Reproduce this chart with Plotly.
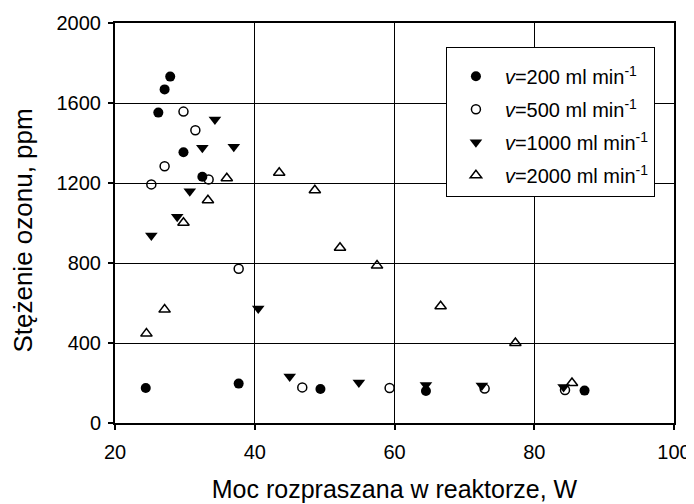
import plotly.graph_objects as go

# Data
x_200 = [27.9, 27.1, 26.2, 29.8, 32.5, 24.4, 37.7, 49.4, 64.5, 87.2]
y_200 = [1732, 1668, 1552, 1354, 1231, 175, 197, 170, 160, 162]

x_500 = [29.8, 31.5, 27.1, 33.4, 25.2, 37.7, 46.8, 59.3, 72.9, 84.4]
y_500 = [1557, 1464, 1284, 1218, 1193, 771, 178, 175, 172, 165]

x_1000 = [34.3, 32.5, 37.0, 30.7, 28.9, 25.2, 40.5, 45.0, 54.9, 64.5, 72.5, 84.2]
y_1000 = [1518, 1376, 1381, 1159, 1031, 937, 572, 232, 203, 190, 188, 180]

x_2000 = [36.0, 33.3, 29.8, 27.1, 24.5, 43.5, 48.6, 52.2, 57.5, 66.6, 77.3, 85.4]
y_2000 = [1224, 1114, 1001, 567, 447, 1251, 1164, 876, 787, 584, 400, 200]

names = ["<i>v</i>=200 ml min<sup>-1</sup>", "<i>v</i>=500 ml min<sup>-1</sup>",
         "<i>v</i>=1000 ml min<sup>-1</sup>", "<i>v</i>=2000 ml min<sup>-1</sup>"]

x_ticks = [20, 40, 60, 80, 100]
y_ticks = [0, 400, 800, 1200, 1600, 2000]

x_title = "Moc rozpraszana w reaktorze, W"
y_title = "Stężenie ozonu, ppm"

FONT = "Liberation Sans, Arial, sans-serif"

fig = go.Figure()
fig.add_trace(go.Scatter(x=x_200, y=y_200, mode="markers", name=names[0], legendgroup="a",
                         marker=dict(symbol="circle", size=10, color="black")))
fig.add_trace(go.Scatter(x=x_500, y=y_500, mode="markers", name=names[1], legendgroup="b",
                         marker=dict(symbol="circle-open", size=9, color="black",
                                     line=dict(width=1.5, color="black"))))
fig.add_trace(go.Scatter(x=x_1000, y=y_1000, mode="markers", name=names[2], legendgroup="c",
                         marker=dict(symbol="triangle-down", size=11, color="black")))
fig.add_trace(go.Scatter(x=x_2000, y=y_2000, mode="markers", name=names[3], legendgroup="d",
                         marker=dict(symbol="triangle-up-open", size=10, color="black",
                                     line=dict(width=1.5, color="black"))))

fig.update_layout(
    width=694, height=504,
    margin=dict(l=107, r=28, t=15, b=89),
    paper_bgcolor="white", plot_bgcolor="white",
    font=dict(family=FONT, size=20, color="black"),
    showlegend=True,
    legend=dict(x=0.592, y=0.941, xanchor="left", yanchor="top",
                bgcolor="white", bordercolor="black", borderwidth=1,
                font=dict(size=20), tracegroupgap=4, itemwidth=48,
                title=dict(text=" ", font=dict(size=7))),
    annotations=[dict(text=y_title, xref="paper", yref="paper", x=-0.1646, y=0.481,
                      xanchor="center", yanchor="middle", textangle=-90, showarrow=False,
                      font=dict(size=26))],
)
fig.update_xaxes(range=[20, 100], tickvals=x_ticks, ticks="outside", ticklen=5,
                 tickwidth=1.5, tickcolor="black", automargin=False, ticklabelstandoff=5,
                 showline=True, linecolor="black", linewidth=2, mirror=True,
                 showgrid=True, gridcolor="black", gridwidth=1, zeroline=False,
                 title=dict(text=x_title, font=dict(size=25), standoff=18),
                 tickfont=dict(size=20))
fig.update_yaxes(range=[0, 2000], tickvals=y_ticks, ticks="outside", ticklen=5,
                 tickwidth=1.5, tickcolor="black", automargin=False, ticklabelstandoff=3,
                 showline=True, linecolor="black", linewidth=2, mirror=True,
                 showgrid=True, gridcolor="black", gridwidth=1, zeroline=False,
                 tickfont=dict(size=20))

fig.write_html("out.html")
